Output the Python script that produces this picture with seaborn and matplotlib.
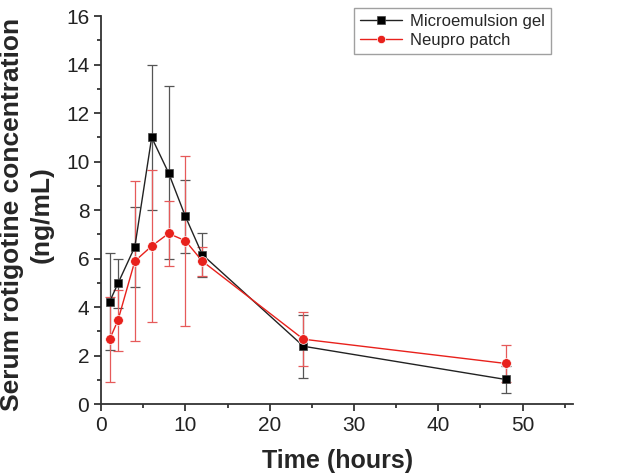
import matplotlib
matplotlib.use('Agg')
import matplotlib.pyplot as plt
from matplotlib.ticker import MultipleLocator
import seaborn as sns
import pandas as pd

time_hours = [1, 2, 4, 6, 8, 10, 12, 24, 48]

gel_mean = [4.22, 4.98, 6.49, 11.0, 9.54, 7.74, 6.17, 2.39, 1.02]
gel_err = [2.0, 1.0, 1.64, 3.0, 3.56, 1.5, 0.91, 1.3, 0.55]

patch_mean = [2.67, 3.46, 5.90, 6.52, 7.04, 6.74, 5.90, 2.68, 1.68]
patch_err = [1.75, 1.25, 3.3, 3.13, 1.35, 3.5, 0.6, 1.12, 0.78]

series_names = ['Microemulsion gel', 'Neupro patch']


def main():
    sns.set_style('ticks')
    plt.rcParams['font.family'] = ['Liberation Sans', 'DejaVu Sans']

    df = pd.DataFrame({
        'Time': time_hours * 2,
        'Value': gel_mean + patch_mean,
        'Group': [series_names[0]] * len(time_hours) + [series_names[1]] * len(time_hours),
    })

    fig = plt.figure(figsize=(6.44, 4.75), dpi=100)
    ax = fig.add_axes([0.157, 0.149, 0.733, 0.817])

    # error bars first so the markers sit on top
    ax.errorbar(time_hours, gel_mean, yerr=gel_err, fmt='none', ecolor='#555555',
                elinewidth=0.9, capsize=3.5, capthick=0.9, zorder=1)
    ax.errorbar(time_hours, patch_mean, yerr=patch_err, fmt='none', ecolor='#e65a5a',
                elinewidth=0.9, capsize=3.5, capthick=0.9, zorder=1)

    sns.lineplot(data=df, x='Time', y='Value', hue='Group', style='Group',
                 palette={series_names[0]: '#222222', series_names[1]: '#e8211c'},
                 markers={series_names[0]: 's', series_names[1]: 'o'},
                 dashes=False, linewidth=1.0, markersize=7,
                 markeredgewidth=0.5, ax=ax, zorder=3)
    for line in ax.lines:
        if line.get_marker() == 's':
            line.set_markersize(6.3)
            line.set_markerfacecolor('black')
            line.set_markeredgecolor('#444444')

    ax.set_xlim(0, 56)
    ax.set_ylim(0, 16)
    ax.xaxis.set_major_locator(MultipleLocator(10))
    ax.xaxis.set_minor_locator(MultipleLocator(5))
    ax.yaxis.set_major_locator(MultipleLocator(2))
    ax.yaxis.set_minor_locator(MultipleLocator(1))
    ax.tick_params(which='major', length=5, width=1.2, labelsize=15, colors='#222222')
    ax.tick_params(which='minor', length=3, width=1.2, colors='#222222')
    for s in ['left', 'bottom']:
        ax.spines[s].set_linewidth(1.3)
        ax.spines[s].set_color('#333333')
    sns.despine(ax=ax)

    ax.set_xlabel('Time (hours)', fontsize=18, fontweight='bold', labelpad=10)
    ax.set_ylabel('Serum rotigotine concentration\n(ng/mL)', fontsize=19,
                  fontweight='bold', labelpad=5, linespacing=1.3)
    ax.yaxis.set_label_coords(-0.1, 0.49)

    handles, labels = ax.get_legend_handles_labels()
    leg = ax.legend(handles, labels, loc='upper left',
                    bbox_to_anchor=(354 / 644, 1 - 8 / 475),
                    bbox_transform=fig.transFigure, borderaxespad=0,
                    fontsize=12, frameon=True, fancybox=False, handlelength=2.5,
                    borderpad=0.35, labelspacing=0.25, handletextpad=0.5)
    leg.get_frame().set_edgecolor('#888888')
    leg.get_frame().set_linewidth(1.0)
    for line in leg.get_lines():
        line.set_markersize(6)

    fig.savefig('out.png', dpi=100)
    plt.close(fig)


if __name__ == '__main__':
    main()
